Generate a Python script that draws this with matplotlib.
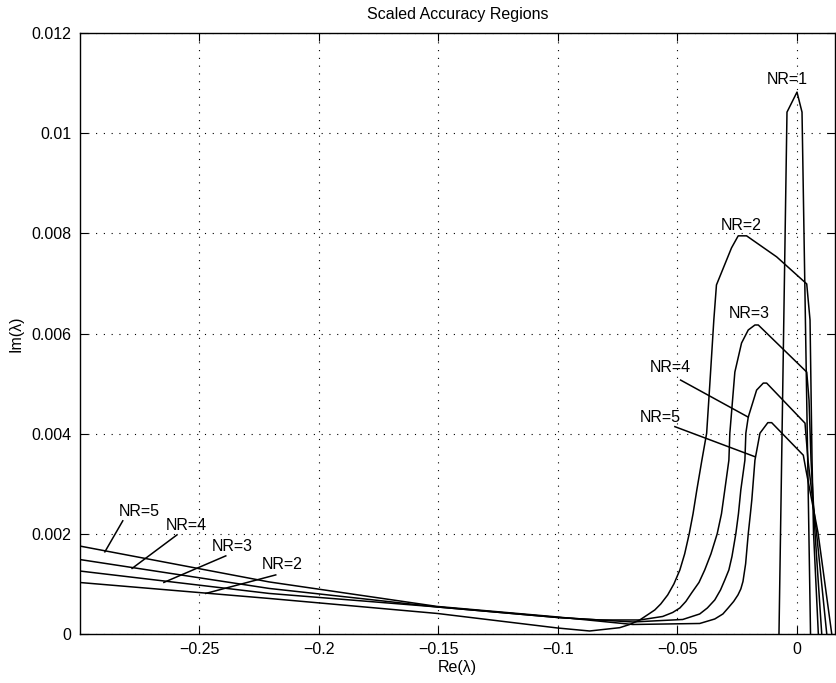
import matplotlib
matplotlib.use('Agg')
import matplotlib.pyplot as plt

plt.rcParams['font.family'] = ['Liberation Sans', 'DejaVu Sans']

# curves (Re, Im)
nr1_x = [-0.00754, -0.00419, 0.0, 0.0021, 0.00566]
nr1_y = [0.0, 0.01042, 0.01082, 0.01042, 0.0]

nr2_x = [-0.3005, -0.2209, -0.1505, -0.1002, -0.0868, -0.0742, -0.070, -0.0658, -0.062, -0.0595,
         -0.057, -0.0541, -0.0515, -0.049, -0.047, -0.0451, -0.0435, -0.0419, -0.0398, -0.0378,
         -0.0365, -0.0348, -0.0337, -0.0274, -0.0246, -0.0211,
         -0.0085, 0.00407, 0.00545, 0.00629, 0.00692, 0.00893]
nr2_y = [0.00103, 0.00071, 0.00041, 0.00012, 0.00006, 0.000126, 0.00019, 0.00028, 0.0004, 0.00048,
         0.0006, 0.00078, 0.001, 0.00128, 0.0016, 0.0020, 0.0024, 0.00288, 0.00347, 0.00401,
         0.00497, 0.00627, 0.00697, 0.00771, 0.00795, 0.00795,
         0.00753, 0.00699, 0.00627, 0.00347, 0.00202, 0.0]

nr3_x = [-0.3005, -0.2209, -0.1505, -0.1002, -0.0826, -0.0658, -0.0562, -0.052, -0.049, -0.0465,
         -0.0441, -0.041, -0.0386, -0.036, -0.0334, -0.0316, -0.0302, -0.0285, -0.0281, -0.026,
         -0.0232, -0.0204, -0.0176, -0.0162,
         0.00407, 0.00503, 0.00587, 0.00754, 0.01035]
nr3_y = [0.00126, 0.00081, 0.00054, 0.00033, 0.00028, 0.00028, 0.00035, 0.00043, 0.00052, 0.00065,
         0.00082, 0.00103, 0.00128, 0.0016, 0.0020, 0.0024, 0.00288, 0.00347, 0.00401, 0.00523,
         0.00581, 0.00607, 0.00617, 0.00617,
         0.00523, 0.00467, 0.00347, 0.00202, 0.0]

nr4_x = [-0.3005, -0.2209, -0.1505, -0.1002, -0.0687, -0.0478, -0.0407, -0.0375, -0.0344, -0.032,
         -0.0302, -0.0285, -0.0272, -0.0256, -0.0245, -0.0235, -0.0218, -0.0214, -0.0204, -0.0169,
         -0.0141, -0.0127,
         0.00335, 0.00461, 0.00817, 0.01245]
nr4_y = [0.00149, 0.00091, 0.00054, 0.00033, 0.00024, 0.00029, 0.0004, 0.00052, 0.00068, 0.00088,
         0.00108, 0.00128, 0.00155, 0.0020, 0.0024, 0.00288, 0.00347, 0.00401, 0.00433, 0.00487,
         0.00501, 0.00501,
         0.00421, 0.00347, 0.00202, 0.0]

nr5_x = [-0.3005, -0.2209, -0.1505, -0.1002, -0.0687, -0.0407, -0.0344, -0.031, -0.0288, -0.0265,
         -0.0247, -0.0235, -0.0226, -0.0215, -0.0204, -0.0195, -0.0189, -0.0176, -0.0155, -0.0122,
         -0.0106,
         0.00264, 0.00377, 0.0088, 0.01454]
nr5_y = [0.00176, 0.00104, 0.00055, 0.00034, 0.00019, 0.00021, 0.00030, 0.0004, 0.00052, 0.00065,
         0.00078, 0.0009, 0.00105, 0.0014, 0.0020, 0.0024, 0.00268, 0.00347, 0.00401, 0.00422,
         0.00422,
         0.00357, 0.00327, 0.00202, 0.0]

# labels: text, text position, leader line start, leader line end (None = no leader)
label_text = ['NR=1', 'NR=2', 'NR=3', 'NR=4', 'NR=5', 'NR=5', 'NR=4', 'NR=3', 'NR=2']
label_pos = [(-0.0042, 0.01108), (-0.0235, 0.00815), (-0.0201, 0.00639), (-0.0532, 0.00533),
             (-0.0574, 0.00432), (-0.2754, 0.00244), (-0.2557, 0.00216), (-0.2364, 0.00174),
             (-0.2154, 0.00138)]
leader_from = [None, None, None, (-0.0487, 0.00507), (-0.0511, 0.00414), (-0.2821, 0.00226),
               (-0.2594, 0.00198), (-0.2390, 0.00156), (-0.2181, 0.00118)]
leader_to = [None, None, None, (-0.0204, 0.00433), (-0.0176, 0.00354), (-0.2896, 0.00164),
             (-0.2782, 0.00131), (-0.2649, 0.00103), (-0.2474, 0.00081)]

x_ticks = [-0.25, -0.2, -0.15, -0.1, -0.05, 0]
x_ticklabels = ['\u22120.25', '\u22120.2', '\u22120.15', '\u22120.1', '\u22120.05', '0']
y_ticks = [0, 0.002, 0.004, 0.006, 0.008, 0.01, 0.012]
y_ticklabels = ['0', '0.002', '0.004', '0.006', '0.008', '0.01', '0.012']

fig = plt.figure(figsize=(8.36, 6.83), dpi=100)
ax = fig.add_axes([80 / 836, 1 - 634 / 683, 755 / 836, 601 / 683])

for xs, ys in [(nr1_x, nr1_y), (nr2_x, nr2_y), (nr3_x, nr3_y), (nr4_x, nr4_y), (nr5_x, nr5_y)]:
    ax.plot(xs, ys, color='black', lw=1.1)

for txt, pos, p0, p1 in zip(label_text, label_pos, leader_from, leader_to):
    ax.text(pos[0], pos[1], txt, ha='center', va='center', fontsize=11.5)
    if p0 is not None:
        ax.plot([p0[0], p1[0]], [p0[1], p1[1]], color='black', lw=1.1)

ax.set_xlim(-0.3, 0.0159)
ax.set_ylim(0, 0.012)
ax.set_xticks(x_ticks)
ax.set_xticklabels(x_ticklabels)
ax.set_yticks(y_ticks)
ax.set_yticklabels(y_ticklabels)
ax.tick_params(direction='in', length=6, width=0.8, top=True, right=True, labelsize=11.5, pad=6)
ax.grid(True, color='black', linestyle=(0, (1, 6)), linewidth=0.8)
for s in ax.spines.values():
    s.set_linewidth(1.0)

ax.set_title('Scaled Accuracy Regions', fontsize=11.5, pad=10)
ax.set_xlabel('Re(\u03bb)', fontsize=11.5, labelpad=2)
ax.set_ylabel('Im(\u03bb)', fontsize=11.5, labelpad=6)

fig.savefig('out.png', dpi=100)
